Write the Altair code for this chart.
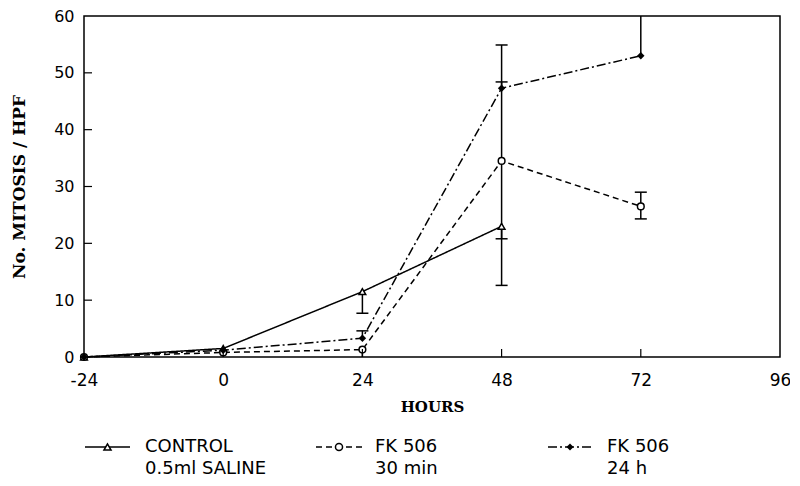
import altair as alt
import pandas as pd
import numpy as np

# ---- data ----
hours_ctrl = [-24, 0, 24, 48]
ctrl_y = [0, 1.5, 11.5, 23.0]
ctrl_lo = [np.nan, np.nan, 7.7, 12.6]
ctrl_hi = [np.nan, np.nan, np.nan, np.nan]

hours_fk = [-24, 0, 24, 48, 72]
fk30_y = [0, 0.8, 1.3, 34.5, 26.5]
fk30_lo = [np.nan, np.nan, 0.0, 20.8, 24.3]
fk30_hi = [np.nan, np.nan, np.nan, 48.4, 29.0]

fk24_y = [0, 1.2, 3.3, 47.3, 53.0]
fk24_lo = [np.nan, np.nan, np.nan, np.nan, np.nan]
fk24_hi = [np.nan, np.nan, 4.6, 54.9, 60.0]

series_names = ["CONTROL", "FK 506 30 min", "FK 506 24 h"]
x_ticks = [-24, 0, 24, 48, 72, 96]
y_ticks = [0, 10, 20, 30, 40, 50, 60]

rows = []
for name, xs, ys, los, his in [
    (series_names[0], hours_ctrl, ctrl_y, ctrl_lo, ctrl_hi),
    (series_names[1], hours_fk, fk30_y, fk30_lo, fk30_hi),
    (series_names[2], hours_fk, fk24_y, fk24_lo, fk24_hi),
]:
    for x, y, lo, hi in zip(xs, ys, los, his):
        rows.append({"series": name, "hours": x, "val": y, "lo": lo, "hi": hi})
df = pd.DataFrame(rows)
df["bar_lo"] = df["lo"].fillna(df["val"])
df["bar_hi"] = df["hi"].fillna(df["val"])
df_err = df[df["lo"].notna() | df["hi"].notna()].copy()
caps = []
for _, r in df_err.iterrows():
    for v in (r["lo"], r["hi"]):
        if not np.isnan(v) and 0 < v < 60:
            caps.append({"hours": r["hours"], "cap": v})
df_caps = pd.DataFrame(caps)

W, H = 696, 341
SANS = "DejaVu Sans"
SERIF = "DejaVu Serif"

xscale = alt.Scale(domain=[-24, 96], nice=False, zero=False)
yscale = alt.Scale(domain=[0, 60], nice=False)
dash_scale = alt.Scale(domain=series_names, range=[[1, 0], [6, 4], [9, 3, 2, 3]])
shape_scale = alt.Scale(domain=series_names, range=["triangle-up", "circle", "diamond"])

xaxis = alt.Axis(values=x_ticks, ticks=False, domain=False, grid=False, labelFont=SANS,
                 labelFontSize=17, labelColor="black", labelPadding=15, labelFlush=False,
                 labelExpr="'' + datum.value",
                 title="HOURS", titleFont=SERIF, titleFontSize=15, titleFontWeight="bold",
                 titleColor="black", titlePadding=11)
yaxis = alt.Axis(values=y_ticks, ticks=False, domain=False, grid=False, labelFont=SANS,
                 labelFontSize=16, labelColor="black", labelPadding=10, labelFlush=False,
                 title="No. MITOSIS / HPF", titleFont=SERIF, titleFontSize=17,
                 titleFontWeight="bold", titleColor="black", titlePadding=25)

base = alt.Chart(df)

lines = base.mark_line(color="black", strokeWidth=1.5).encode(
    x=alt.X("hours:Q", scale=xscale, axis=xaxis),
    y=alt.Y("val:Q", scale=yscale, axis=yaxis),
    strokeDash=alt.StrokeDash("series:N", scale=dash_scale, legend=None),
    detail="series:N",
)

errs = alt.Chart(df_err).mark_rule(color="black", strokeWidth=1.5).encode(
    x="hours:Q", y="bar_lo:Q", y2="bar_hi:Q"
)

capmarks = alt.Chart(df_caps).mark_rule(color="black", strokeWidth=1.5, xOffset=-6, x2Offset=6).encode(
    x="hours:Q", x2="hours:Q", y="cap:Q"
)

pts_open = base.transform_filter(alt.datum.series != series_names[2]).mark_point(
    color="black", filled=False, strokeWidth=1.5, size=45, fill="white", fillOpacity=1
).encode(
    x="hours:Q", y="val:Q",
    shape=alt.Shape("series:N", scale=shape_scale, legend=None),
)
pts_fill = base.transform_filter(alt.datum.series == series_names[2]).mark_point(
    color="black", filled=True, size=55, opacity=1
).encode(
    x="hours:Q", y="val:Q",
    shape=alt.Shape("series:N", scale=shape_scale, legend=None),
)

xt = alt.Chart(pd.DataFrame({"t": x_ticks[1:-1]})).mark_rule(color="black", strokeWidth=1.2).encode(
    x="t:Q", y=alt.value(H), y2=alt.value(H - 8)
)
yt = alt.Chart(pd.DataFrame({"t": y_ticks[1:-1]})).mark_rule(color="black", strokeWidth=1.2).encode(
    y="t:Q", x=alt.value(0), x2=alt.value(8)
)

# ---- custom legend below the plot ----
leg_layers = []
leg_items = [
    (1, 46, "triangle-up", False, [1, 0], "CONTROL", "0.5ml SALINE", 61),
    (232, 278, "circle", False, [6, 4], "FK 506", "30 min", 291),
    (464, 508, "diamond", True, [9, 3, 2, 3], "FK 506", "24 h", 523),
]
ly1, ly2 = 431, 453
for x0, x1, shp, filled, dash, t1, t2, tx in leg_items:
    leg_layers.append(alt.Chart().mark_rule(color="black", strokeWidth=1.5, strokeDash=dash).encode(
        x=alt.value(x0), x2=alt.value(x1), y=alt.value(ly1)))
    leg_layers.append(alt.Chart().mark_point(shape=shp, filled=filled, color="black", size=50,
                                             strokeWidth=1.5, fill="white" if not filled else "black",
                                             fillOpacity=1, opacity=1).encode(
        x=alt.value((x0 + x1) / 2), y=alt.value(ly1)))
    leg_layers.append(alt.Chart().mark_text(align="left", baseline="middle", font=SANS, fontSize=18,
                                            color="black").encode(
        x=alt.value(tx), y=alt.value(ly1), text=alt.value(t1)))
    leg_layers.append(alt.Chart().mark_text(align="left", baseline="middle", font=SANS, fontSize=18,
                                            color="black").encode(
        x=alt.value(tx), y=alt.value(ly2), text=alt.value(t2)))

chart = alt.layer(lines, errs, capmarks, pts_open, pts_fill, xt, yt, *leg_layers).properties(
    width=W, height=H,
    autosize=alt.AutoSizeParams(type="none"),
    padding={"left": 76, "top": 8, "right": 10, "bottom": 121},
    background="white",
).configure_view(stroke="black", strokeWidth=1.5)

chart.save("out.html", embed_options={"renderer": "svg", "actions": False})
